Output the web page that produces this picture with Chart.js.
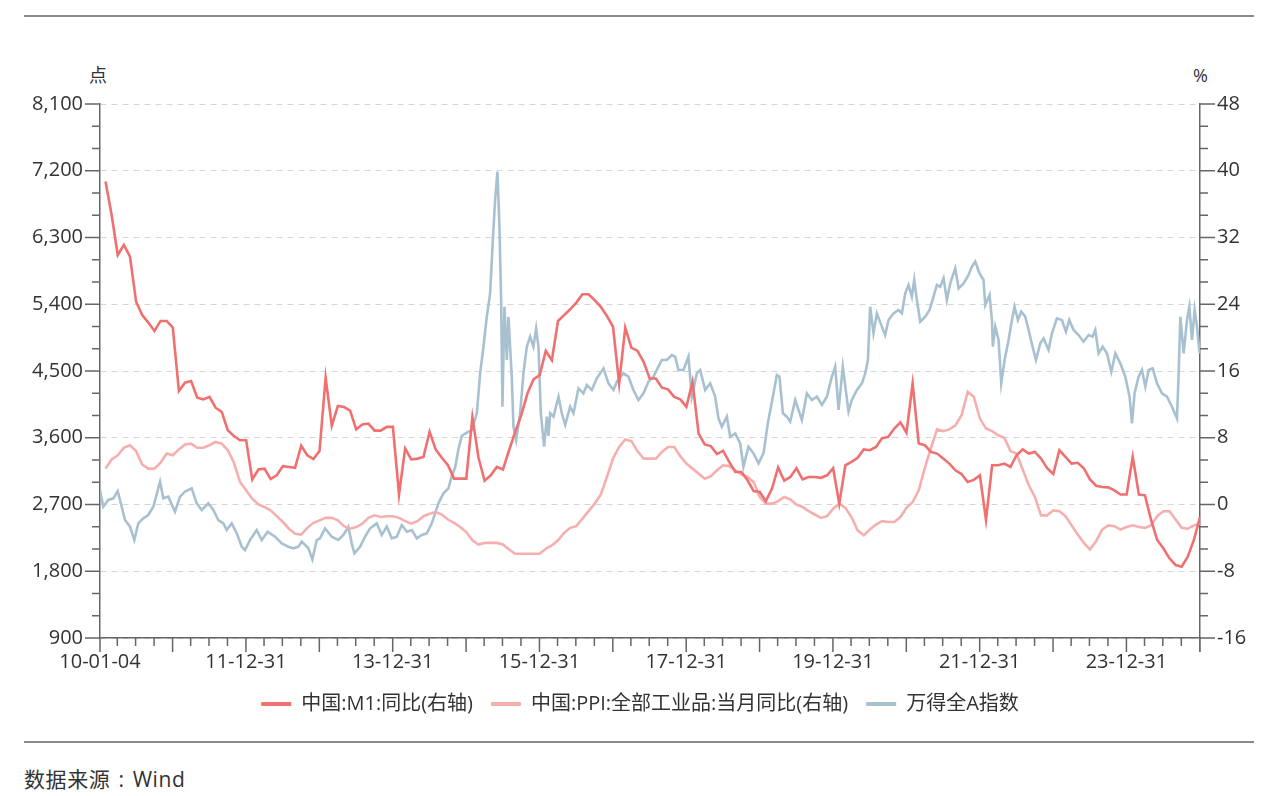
<!DOCTYPE html>
<html><head><meta charset="utf-8">
<script src="https://cdn.jsdelivr.net/npm/chart.js@4/dist/chart.umd.min.js"></script>
<style>
html,body{margin:0;padding:0;background:#fff;width:1280px;height:796px;overflow:hidden;font-family:"Open Sans","Noto Sans CJK SC",sans-serif;color:#333;}
#wrap{position:absolute;left:0;top:0;width:1280px;height:724px;}
.rule{position:absolute;left:24px;width:1230px;height:2px;background:#8a8a8a;}
.unit{position:absolute;top:62px;font-size:18px;line-height:26px;color:#333;}
#src{position:absolute;left:24px;top:764px;font-size:21px;line-height:30px;letter-spacing:0.6px;word-spacing:2px;color:#333;}
</style></head><body>
<div class="rule" style="top:15px"></div>
<div class="unit" style="left:89px">点</div>
<div class="unit" style="left:1193px">%</div>
<div id="wrap"><canvas id="c"></canvas></div>
<div class="rule" style="top:741px"></div>
<div id="src">数据来源 : Wind</div>
<script>
// ---- data ----
const seriesNames = ['中国:M1:同比(右轴)', '中国:PPI:全部工业品:当月同比(右轴)', '万得全A指数'];
const firstYear = 2010; // monthly series start Jan 2010, one value per month
const m1Values = [
 38.7,34.7,29.9,31.1,29.7,24.3,22.7,21.8,20.8,22.0,22.0,21.2,
 13.6,14.6,14.8,12.8,12.6,12.9,11.6,11.1,8.9,8.2,7.7,7.7,
 3.0,4.2,4.3,3.05,3.5,4.6,4.5,4.4,7.05,5.9,5.45,6.4,
 15.2,9.45,11.8,11.7,11.25,9.0,9.6,9.7,8.85,8.85,9.3,9.3,
 1.2,6.7,5.4,5.5,5.7,8.7,6.6,5.6,4.7,3.1,3.1,3.1,
 10.45,5.6,2.85,3.5,4.5,4.2,6.5,8.7,10.7,13.3,15.0,15.5,
 18.4,17.3,22.0,22.7,23.4,24.2,25.2,25.2,24.5,23.7,22.6,21.3,
 14.5,21.2,18.8,18.4,17.1,15.1,15.1,14.0,13.8,12.9,12.6,11.7,
 14.7,8.5,7.2,7.0,6.05,6.45,5.1,3.9,3.9,2.9,1.6,1.5,
 0.4,1.9,4.45,2.85,3.3,4.35,3.0,3.3,3.3,3.2,3.5,4.35,
 0.1,4.7,5.1,5.6,6.6,6.5,6.9,7.95,8.1,9.1,9.85,8.6,
 14.5,7.3,7.1,6.3,6.1,5.5,4.9,4.1,3.65,2.7,2.95,3.5,
 -1.85,4.7,4.7,4.9,4.5,5.9,6.6,6.1,6.3,5.5,4.35,3.65,
 6.5,5.7,4.9,5.0,4.35,3.0,2.25,2.1,2.05,1.7,1.2,1.2,
 5.7,1.2,1.1,-1.85,-4.25,-5.25,-6.45,-7.25,-7.45,-6.25,-4.25,-1.5
];
const ppiValues = [
 4.3,5.4,5.9,6.8,7.1,6.4,4.8,4.3,4.3,5.0,6.1,5.9,
 6.6,7.2,7.3,6.8,6.8,7.1,7.5,7.3,6.5,5.0,2.7,1.7,
 0.7,0.0,-0.3,-0.7,-1.4,-2.1,-2.9,-3.5,-3.6,-2.8,-2.2,-1.9,
 -1.6,-1.6,-1.9,-2.6,-2.9,-2.7,-2.3,-1.6,-1.3,-1.5,-1.4,-1.4,
 -1.6,-2.0,-2.3,-2.0,-1.4,-1.1,-0.9,-1.2,-1.8,-2.2,-2.7,-3.3,
 -4.3,-4.8,-4.6,-4.6,-4.6,-4.8,-5.4,-5.9,-5.9,-5.9,-5.9,-5.9,
 -5.3,-4.9,-4.3,-3.4,-2.8,-2.6,-1.7,-0.8,0.1,1.2,3.3,5.5,
 6.9,7.8,7.6,6.4,5.5,5.5,5.5,6.3,6.9,6.9,5.8,4.9,
 4.3,3.7,3.1,3.4,4.1,4.7,4.6,4.1,3.6,3.3,2.7,0.9,
 0.1,0.1,0.4,0.9,0.6,0.0,-0.3,-0.8,-1.2,-1.6,-1.4,-0.5,
 0.1,-0.4,-1.5,-3.1,-3.7,-3.0,-2.4,-2.0,-2.1,-2.1,-1.5,-0.4,
 0.3,1.7,4.4,6.8,9.0,8.8,9.0,9.5,10.7,13.5,12.9,10.3,
 9.1,8.8,8.3,8.0,6.4,6.1,4.2,2.3,0.9,-1.3,-1.3,-0.7,
 -0.8,-1.4,-2.5,-3.6,-4.6,-5.4,-4.4,-3.0,-2.5,-2.6,-3.0,-2.7,
 -2.5,-2.7,-2.8,-2.5,-1.4,-0.8,-0.8,-1.8,-2.8,-2.9,-2.5,-2.3
];
// Wind All-A index: dates as decimal years
const windDates = [
 2010.008,2010.053,2010.121,2010.19,2010.249,2010.304,2010.349,2010.417,2010.476,2010.53,2010.598,2010.666,2010.735,2010.826,2010.871,2010.939,
 2011.03,2011.099,2011.167,2011.258,2011.326,2011.395,2011.484,2011.553,2011.621,2011.689,2011.735,2011.803,2011.872,2011.94,2011.985,
 2012.053,2012.144,2012.212,2012.294,2012.394,2012.485,2012.575,2012.643,2012.712,2012.758,2012.848,2012.902,2012.962,
 2013.007,2013.075,2013.166,2013.256,2013.325,2013.393,2013.439,2013.475,2013.553,2013.621,2013.689,2013.78,2013.848,2013.917,2013.985,
 2014.053,2014.121,2014.19,2014.258,2014.326,2014.394,2014.462,2014.53,2014.575,2014.621,2014.689,2014.757,2014.803,2014.848,2014.893,2014.939,
 2015.007,2015.075,2015.144,2015.189,2015.234,2015.28,2015.325,2015.362,2015.393,2015.425,2015.452,2015.475,2015.493,2015.52,2015.553,2015.575,2015.62,2015.643,2015.68,2015.734,2015.779,2015.825,2015.87,2015.915,2015.952,2015.984,
 2016.016,2016.061,2016.098,2016.12,2016.143,2016.189,2016.257,2016.302,2016.348,2016.416,2016.461,2016.529,2016.597,2016.643,2016.711,2016.779,2016.87,2016.938,
 2017.006,2017.052,2017.142,2017.21,2017.278,2017.346,2017.415,2017.483,2017.551,2017.619,2017.665,2017.734,2017.802,2017.847,2017.892,2017.96,
 2018.028,2018.074,2018.143,2018.188,2018.256,2018.324,2018.392,2018.437,2018.483,2018.551,2018.597,2018.665,2018.733,2018.778,2018.846,2018.915,2018.983,
 2019.051,2019.11,2019.187,2019.233,2019.269,2019.315,2019.369,2019.415,2019.483,2019.528,2019.574,2019.642,2019.71,2019.779,2019.847,2019.915,2019.983,
 2020.028,2020.074,2020.132,2020.178,2020.21,2020.255,2020.324,2020.392,2020.437,2020.474,2020.505,2020.55,2020.596,2020.664,2020.709,2020.755,2020.823,2020.891,2020.937,2020.983,
 2021.028,2021.073,2021.105,2021.141,2021.187,2021.255,2021.314,2021.368,2021.414,2021.46,2021.505,2021.55,2021.596,2021.664,2021.71,2021.778,2021.846,2021.891,2021.937,2021.996,
 2022.05,2022.073,2022.132,2022.164,2022.177,2022.21,2022.255,2022.291,2022.337,2022.391,2022.437,2022.472,2022.518,2022.564,2022.618,2022.664,2022.718,2022.764,2022.823,2022.868,2022.936,2022.982,
 2023.05,2023.118,2023.173,2023.218,2023.277,2023.345,2023.413,2023.482,2023.536,2023.573,2023.618,2023.673,2023.732,2023.791,2023.846,2023.914,2023.982,
 2024.04,2024.073,2024.108,2024.163,2024.209,2024.255,2024.3,2024.355,2024.414,2024.482,2024.55,2024.618,2024.686,2024.709,2024.732,2024.777,2024.823,2024.855,2024.891,2024.927,2024.959,2024.99,2025.0
];
const windValues = [
 2895,2670,2761,2783,2882,2670,2491,2401,2221,2446,2514,2558,2670,3007,2784,2806,
 2603,2806,2873,2918,2716,2626,2716,2626,2491,2446,2356,2446,2311,2131,2087,
 2221,2356,2221,2333,2266,2176,2131,2109,2131,2199,2109,1960,2221,
 2244,2379,2266,2221,2289,2401,2176,2041,2131,2266,2379,2446,2289,2401,2244,
 2266,2424,2333,2356,2244,2289,2311,2446,2581,2716,2851,2918,3086,3198,3445,3625,
 3670,3704,3930,4469,4828,5232,5547,6266,6806,7187,6446,5457,4019,5367,4648,5232,4423,3749,3570,3930,4469,4828,4962,4828,5074,4828,
 3930,3480,3884,3625,3930,3884,4154,3930,3772,4019,3930,4266,4199,4311,4244,4401,4536,4334,
 4244,4356,4469,4424,4244,4109,4199,4356,4424,4558,4648,4648,4716,4693,4513,4513,
 4693,4154,4469,4513,4244,4334,4154,3862,3749,3884,3614,3659,3525,3210,3480,3390,3255,
 3390,3795,4199,4446,4424,3930,3884,3817,4109,3975,3839,4199,4109,4154,4042,4154,4424,
 4558,3975,4558,4199,3952,4109,4244,4334,4469,4648,5367,5008,5277,5098,4985,5188,5277,5322,5277,5547,
 5660,5502,5727,5457,5165,5232,5322,5502,5660,5637,5750,5457,5682,5885,5615,5682,5794,5907,5974,5817,
 5727,5390,5525,5188,4828,5098,4918,4334,4648,4918,5188,5367,5188,5300,5232,5053,4828,4648,4873,4940,4783,5008,
 5210,5188,5030,5188,5053,4985,4895,4985,4963,5053,4738,4828,4738,4490,4738,4603,4423,
 4154,3795,4199,4423,4513,4288,4513,4536,4334,4199,4154,4019,3862,4468,5232,4738,5188,5367,4918,5322,5098,4783,4738
];
const xTickDates = [2010.008,2011.997,2013.997,2015.997,2017.997,2019.997,2021.997,2023.997];
const xTickLabels = ['10-01-04','11-12-31','13-12-31','15-12-31','17-12-31','19-12-31','21-12-31','23-12-31'];
const quarterEnds = [0.2438,0.4932,0.7452,0.9973];
const leftRange = [900, 8100, 900];
const rightRange = [-16, 48, 8];
const colors = ['#F07070', '#F6AFAF', '#A8C1D1'];

// ---- build ----
const monthPos = i => firstYear + (i + 1) / 12;
const m1Data = m1Values.map((v, i) => ({x: monthPos(i), y: v}));
const ppiData = ppiValues.map((v, i) => ({x: monthPos(i), y: v}));
const windData = windValues.map((v, i) => ({x: windDates[i], y: v}));

Chart.defaults.font.family = '"Open Sans","Noto Sans CJK SC",sans-serif';
Chart.defaults.font.size = 20;
Chart.defaults.color = '#333';

const AXIS = '#666';
const tickPlugin = {
  id: 'tickMarks',
  afterDraw(chart) {
    const {ctx, chartArea: a, scales} = chart;
    const x = scales.x, yl = scales.y, yr = scales.y1;
    ctx.save();
    ctx.strokeStyle = AXIS; ctx.lineWidth = 1.5;
    ctx.beginPath();
    for (let yy = 2010; yy <= 2024; yy++) {
      quarterEnds.forEach((q, k) => {
        const v = yy + q;
        if (v < x.min || v > x.max) return;
        const px = x.getPixelForValue(v);
        const len = k === 3 ? 14 : 8;
        ctx.moveTo(px, a.bottom); ctx.lineTo(px, a.bottom + len);
      });
    }
    [x.min, x.max].forEach(v => { const px = x.getPixelForValue(v); ctx.moveTo(px, a.bottom); ctx.lineTo(px, a.bottom + 14); });
    const nL = (leftRange[1] - leftRange[0]) / leftRange[2] * 3;
    for (let i = 0; i <= nL; i++) {
      const py = yl.getPixelForValue(leftRange[0] + i * leftRange[2] / 3);
      const len = i % 3 === 0 ? 15 : 8;
      ctx.moveTo(a.left, py); ctx.lineTo(a.left - len, py);
    }
    const nR = (rightRange[1] - rightRange[0]) / rightRange[2] * 3;
    for (let i = 0; i <= nR; i++) {
      const py = yr.getPixelForValue(rightRange[0] + i * rightRange[2] / 3);
      const len = i % 3 === 0 ? 15 : 8;
      ctx.moveTo(a.right, py); ctx.lineTo(a.right + len, py);
    }
    ctx.stroke();
    ctx.restore();
  }
};

new Chart(document.getElementById('c'), {
  type: 'line',
  data: {
    datasets: [
      {label: seriesNames[0], data: m1Data, yAxisID: 'y1', borderColor: colors[0], backgroundColor: colors[0]},
      {label: seriesNames[1], data: ppiData, yAxisID: 'y1', borderColor: colors[1], backgroundColor: colors[1]},
      {label: seriesNames[2], data: windData, yAxisID: 'y', borderColor: colors[2], backgroundColor: colors[2]}
    ]
  },
  options: {
    responsive: true, maintainAspectRatio: false, animation: false,
    parsing: false, normalized: true,
    elements: {point: {radius: 0}, line: {borderWidth: 2.6, tension: 0}},
    layout: {padding: {top: 104, left: 0, right: 0, bottom: 0}},
    plugins: {
      tooltip: {enabled: false},
      legend: {
        position: 'bottom',
        labels: {
          boxWidth: 30, boxHeight: 4, padding: 18, color: '#333',
          font: {size: 20},
          generateLabels(chart) {
            const items = Chart.defaults.plugins.legend.labels.generateLabels(chart);
            items.forEach(it => { it.lineWidth = 0; it.strokeStyle = 'rgba(0,0,0,0)'; });
            return items;
          }
        }
      }
    },
    scales: {
      x: {
        type: 'linear', min: 2010.008, max: 2025.0,
        grid: {display: false, drawTicks: false},
        border: {display: true, color: AXIS, width: 1.5},
        afterBuildTicks: s => { s.ticks = xTickDates.map(v => ({value: v})); },
        afterFit: s => { s.height = 38; },
        ticks: {autoSkip: false, maxRotation: 0, padding: 12, color: '#333',
          callback: (v, i) => xTickLabels[i]}
      },
      y: {
        position: 'left', min: leftRange[0], max: leftRange[1],
        afterFit: s => { s.width = 100; },
        grid: {color: '#d6d6d6', lineWidth: 1, drawTicks: false},
        border: {display: true, color: AXIS, width: 1.5, dash: [6, 5]},
        ticks: {stepSize: leftRange[2], padding: 17, color: '#333',
          callback: v => v.toLocaleString('en-US')}
      },
      y1: {
        position: 'right', min: rightRange[0], max: rightRange[1],
        afterFit: s => { s.width = 80; },
        grid: {display: false, drawOnChartArea: false, drawTicks: false},
        border: {display: true, color: AXIS, width: 1.5},
        ticks: {stepSize: rightRange[2], padding: 17, color: '#333'}
      }
    }
  },
  plugins: [tickPlugin]
});
</script>
</body></html>
